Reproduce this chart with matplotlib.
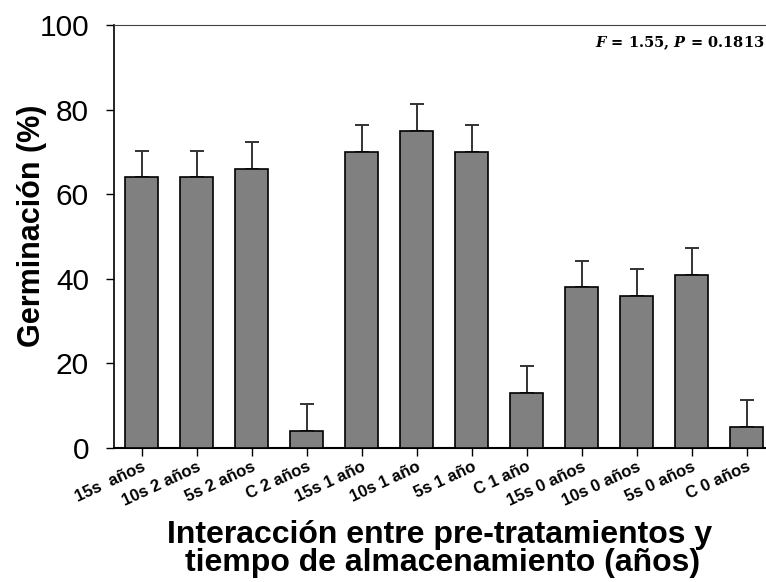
import matplotlib
matplotlib.use('Agg')
import matplotlib.pyplot as plt

# Germination per treatment x storage time
labels = ['15s  años', '10s 2 años', '5s 2 años', 'C 2 años',
          '15s 1 año', '10s 1 año', '5s 1 año', 'C 1 año',
          '15s 0 años', '10s 0 años', '5s 0 años', 'C 0 años']
germ = [64, 64, 66, 4, 70, 75, 70, 13, 38, 36, 41, 5]
se = [6.3, 6.3, 6.3, 6.3, 6.3, 6.3, 6.3, 6.3, 6.3, 6.3, 6.3, 6.3]
yticks = [0, 20, 40, 60, 80, 100]

plt.rcParams['font.family'] = ['Liberation Sans', 'DejaVu Sans']
plt.rcParams['mathtext.fontset'] = 'custom'
plt.rcParams['mathtext.it'] = 'DejaVu Serif:italic:bold'
plt.rcParams['mathtext.rm'] = 'DejaVu Serif:bold'

fig = plt.figure(figsize=(7.66, 5.82), dpi=100)
ax = fig.add_axes([114/766, 1 - 448/582, 1 - 114/766, (448 - 25)/582])

x = list(range(len(labels)))
ax.bar(x, germ, width=0.6, color='#808080', edgecolor='black', linewidth=1.2, zorder=3)
ax.errorbar(x, germ, yerr=[[0]*len(se), se], fmt='none', ecolor='#333333',
            elinewidth=1.4, capsize=5, capthick=1.4, zorder=2)

ax.set_xlim(-0.5, 11.35)
ax.set_ylim(0, 100)
ax.set_yticks(yticks)
ax.tick_params(axis='y', labelsize=21.5, direction='out', length=6, width=1, pad=12)
ax.tick_params(axis='x', length=6, width=1, pad=2)
ax.set_xticks(x)
ax.set_xticklabels(labels, rotation=25, ha='right', va='top', rotation_mode='anchor',
                   fontsize=12, fontweight='bold')

ax.spines['right'].set_visible(False)
ax.spines['top'].set_color('#444444')
ax.spines['left'].set_linewidth(1.2)
ax.spines['bottom'].set_linewidth(1.5)

ax.set_ylabel('Germinación (%)', fontsize=22, fontweight='bold')
ax.yaxis.set_label_coords(-0.103, 0.525)

fig.text(440/766, 1 - 543/582, 'Interacción entre pre-tratamientos y',
         ha='center', va='baseline', fontsize=23, fontweight='bold')
fig.text(443/766, 1 - 571/582, 'tiempo de almacenamiento (años)',
         ha='center', va='baseline', fontsize=23, fontweight='bold')

ax.text(764/766, 1 - 47/582, r'$F$ = 1.55, $P$ = 0.1813', transform=fig.transFigure,
        ha='right', va='baseline', fontsize=10.5, family='DejaVu Serif', fontweight='bold')

fig.savefig('out.png', dpi=100)
